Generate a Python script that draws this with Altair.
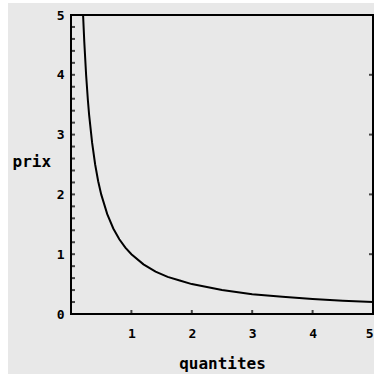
import altair as alt
import pandas as pd

# demand curve readings: quantity vs price
quantites = [0.2, 0.22, 0.25, 0.28, 0.3, 0.35, 0.4, 0.45, 0.5, 0.6, 0.7, 0.8, 0.9,
             1.0, 1.2, 1.4, 1.6, 1.8, 2.0, 2.5, 3.0, 3.5, 4.0, 4.5, 5.0]
prix = [5.0, 4.55, 4.0, 3.57, 3.33, 2.86, 2.5, 2.22, 2.0, 1.67, 1.43, 1.25, 1.11,
        1.0, 0.83, 0.71, 0.62, 0.56, 0.5, 0.4, 0.33, 0.29, 0.25, 0.22, 0.2]

x_ticks = [1, 2, 3, 4, 5]
y_ticks = [0, 1, 2, 3, 4, 5]
y_minor = [0.2, 0.4, 0.6, 0.8, 1.0, 1.2, 1.4, 1.6, 1.8, 2.0, 2.2, 2.4, 2.6,
           2.8, 3.0, 3.2, 3.4, 3.6, 3.8, 4.0, 4.2, 4.4, 4.6, 4.8]

curve = pd.DataFrame({"q": quantites, "p": prix})

W, H = 302, 299
FONT = "DejaVu Sans Mono"
GRAY = "#e8e8e8"

xs = alt.Scale(domain=[0, 5], nice=False)
ys = alt.Scale(domain=[0, 5], nice=False)

one = pd.DataFrame({"a": [0]})

# gray panel behind everything
panel = alt.Chart(one).mark_rect(color=GRAY, clip=False).encode(
    x=alt.value(-63), x2=alt.value(W + 2), y=alt.value(-12), y2=alt.value(H + 60)
)

# frame around the plot area
frame = alt.Chart(one).mark_rect(fillOpacity=0, stroke="black", strokeWidth=2).encode(
    x=alt.value(0), x2=alt.value(W), y=alt.value(0), y2=alt.value(H)
)

line = alt.Chart(curve).mark_line(color="black", strokeWidth=2).encode(
    x=alt.X("q:Q", scale=xs,
            axis=alt.Axis(values=x_ticks, format="d", title="quantites", orient="bottom",
                          zindex=2, domain=False, ticks=False,
                          labelFont=FONT, labelFontWeight="bold", labelFontSize=13,
                          labelColor="black", labelPadding=13, grid=False,
                          titleFont=FONT, titleFontWeight="bold", titleFontSize=16,
                          titleColor="black", titlePadding=15)),
    y=alt.Y("p:Q", scale=ys,
            axis=alt.Axis(values=y_ticks, format="d", title="prix", orient="left",
                          zindex=2, domain=False, ticks=False,
                          labelFont=FONT, labelFontWeight="bold", labelFontSize=13,
                          labelColor="black", labelPadding=7, grid=False,
                          titleFont=FONT, titleFontWeight="bold", titleFontSize=16,
                          titleColor="black", titleAngle=0, titleX=-59, titleY=H / 2 + 5,
                          titleAlign="left")),
)

# inward ticks along the left edge (major and minor)
left = alt.Chart(pd.DataFrame({"v": y_minor})).mark_tick(
    color="black", thickness=2, size=4, orient="horizontal", xOffset=2
).encode(
    y=alt.Y("v:Q", scale=ys), x=alt.value(0)
)

# inward ticks along the right edge
right = alt.Chart(pd.DataFrame({"v": y_ticks[1:]})).mark_tick(
    color="black", thickness=2, size=4, orient="horizontal", xOffset=-2
).encode(
    y=alt.Y("v:Q", scale=ys), x=alt.value(W)
)

# inward ticks along the bottom edge
bottom = alt.Chart(pd.DataFrame({"v": x_ticks[:-1]})).mark_tick(
    color="black", thickness=2, size=4, orient="vertical", yOffset=-2
).encode(
    x=alt.X("v:Q", scale=xs), y=alt.value(H)
)

chart = alt.layer(panel, line, frame, left, right, bottom).properties(
    width=W, height=H,
    background="white",
    padding={"left": 71, "top": 15, "right": 1, "bottom": 60},
    autosize=alt.AutoSizeParams(type="none"),
).configure_view(
    stroke=None, fill=GRAY
)

chart.save("out.html", embed_options={"renderer": "svg", "actions": False})
